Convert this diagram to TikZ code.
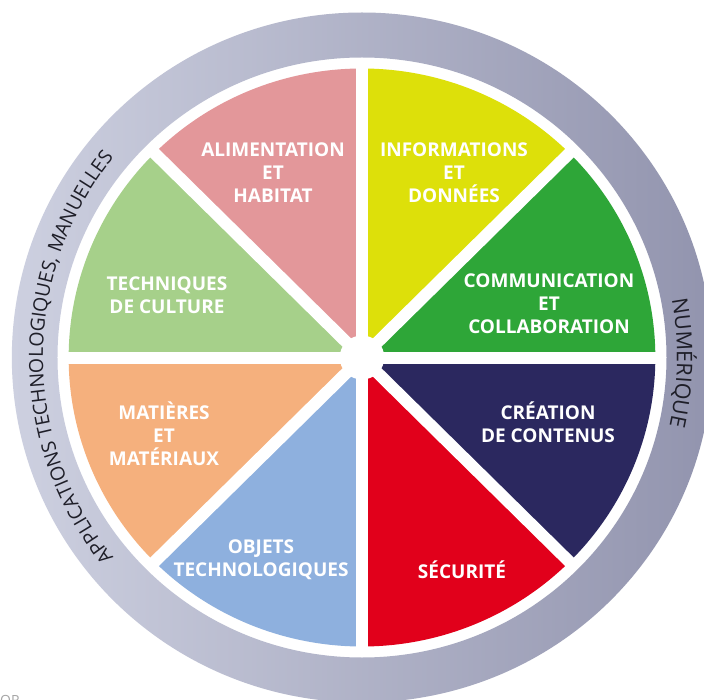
\documentclass[tikz,border=0pt]{standalone}
\usepackage{fontspec}
\setmainfont{Open Sans}
\usetikzlibrary{decorations.text}
\definecolor{cGreen}{HTML}{2EA638}
\definecolor{cYellow}{HTML}{DDE00A}
\definecolor{cPink}{HTML}{E3979A}
\definecolor{cLGreen}{HTML}{A6D08A}
\definecolor{cOrange}{HTML}{F5B07D}
\definecolor{cLBlue}{HTML}{8EB0DE}
\definecolor{cRed}{HTML}{E1001B}
\definecolor{cNavy}{HTML}{2B285F}
\definecolor{ringL}{HTML}{CDD0E0}
\definecolor{ringR}{HTML}{9294AE}
\definecolor{ringtext}{HTML}{1E1E28}
\newcommand{\ringfont}{\fontsize{19.5}{19.5}\selectfont\color{ringtext}}
\newcommand{\ringfontb}{\fontsize{21.5}{21.5}\selectfont\color{ringtext}}
\tikzset{
  lbl/.style={text=white, align=center, font=\bfseries\fontsize{19}{23}\selectfont, inner sep=0pt},
  gapline/.style={white, line width=12pt},
}
\begin{document}
\begin{tikzpicture}[x=1pt,y=1pt]
\useasboundingbox[fill=white] (-362,357.5) rectangle (342,-341.5);
% ring
\begin{scope}[xscale=1.015]
\path[left color=ringL, right color=ringR, even odd rule] (0,0) circle (345) (0,0) circle (300);
% sectors
\fill[cGreen]  (0,0) -- (0:289) arc (0:45:289) -- cycle;
\fill[cYellow] (0,0) -- (45:289) arc (45:90:289) -- cycle;
\fill[cPink]   (0,0) -- (90:289) arc (90:135:289) -- cycle;
\fill[cLGreen] (0,0) -- (135:289) arc (135:180:289) -- cycle;
\fill[cOrange] (0,0) -- (180:289) arc (180:225:289) -- cycle;
\fill[cLBlue]  (0,0) -- (225:289) arc (225:270:289) -- cycle;
\fill[cRed]    (0,0) -- (270:289) arc (270:315:289) -- cycle;
\fill[cNavy]   (0,0) -- (315:289) arc (315:360:289) -- cycle;
\coordinate (c) at (0,0);
\foreach \a in {0,45,...,315} {
  \coordinate (e\a) at (\a:295);
  \draw[gapline] (c) -- (e\a);
}
\fill[white] (c) circle (22);
\end{scope}
% ring texts
\path[decorate, decoration={text along path, text align=center,
  text={|\ringfont|APPLICATIONS TECHNOLOGIQUES, MANUELLES}}]
  (222:319) arc (222:138:319);
\path[decorate, decoration={text along path, text align=center,
  text={|\ringfontb|NUMÉRIQUE}}]
  (14:315) arc (14:-16:315);
% labels
\node[lbl] (alim) at (-89,184.5) {ALIMENTATION\\ET\\HABITAT};
\node[lbl] (info) at (92,184.5) {INFORMATIONS\\ET\\DONNÉES};
\node[lbl] (comm) at (187,53.5) {COMMUNICATION\\ET\\COLLABORATION};
\node[lbl] (tech) at (-195,62.5) {TECHNIQUES\\DE CULTURE};
\node[lbl] (mat) at (-198,-76.5) {MATIÈRES\\ET\\MATÉRIAUX};
\node[lbl] (crea) at (186,-64.5) {CRÉATION\\DE CONTENUS};
\node[lbl] (obj) at (-101,-202.5) {OBJETS\\TECHNOLOGIQUES};
\node[lbl] (secu) at (100,-212.5) {SÉCURITÉ};
\node[anchor=north west, inner sep=0pt, text=gray!70, font=\fontsize{14}{14}\selectfont] (or) at (-362,-337.5) {OR};
\end{tikzpicture}
\end{document}
